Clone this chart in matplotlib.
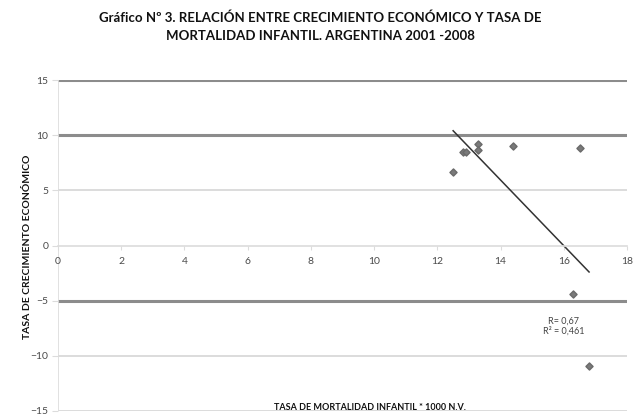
import matplotlib
matplotlib.use("Agg")
import matplotlib.pyplot as plt
import numpy as np

# Data
mortalidad = [12.5, 12.8, 12.9, 13.3, 13.3, 14.4, 16.5, 16.3, 16.8]
crecimiento = [6.7, 8.5, 8.5, 9.2, 8.7, 9.0, 8.8, -4.4, -10.9]
trend_x = [12.5, 16.8]
trend_y = [10.4, -2.4]

y_ticks = [-15, -10, -5, 0, 5, 10, 15]
x_ticks = [0, 2, 4, 6, 8, 10, 12, 14, 16, 18]
dark_grid = [15, 10, -5]
light_grid = [5, -10, -15]

plt.rcParams["font.family"] = ["Lato", "DejaVu Sans"]

fig = plt.figure(figsize=(6.38, 4.18), dpi=100)
ax = fig.add_axes([58 / 638, 1 - 411 / 418, (627 - 58) / 638, (411 - 80) / 418])

for y in dark_grid:
    ax.axhline(y, color="#8c8c8c", lw=2.2, zorder=1)
for y in light_grid:
    ax.axhline(y, color="#dcdcdc", lw=1.4, zorder=1)
ax.axvline(0, color="#dcdcdc", lw=1.2, zorder=1)

ax.plot(trend_x, trend_y, color="#333333", lw=1.1, zorder=2)
ax.scatter(mortalidad, crecimiento, marker="D", s=13, color="#7a7a7a",
           edgecolors="#6a6a6a", zorder=3)

ax.set_xlim(0, 18)
ax.set_ylim(-15, 15)
ax.set_xticks(x_ticks)
ax.set_yticks(y_ticks)
for side in ["top", "right", "left"]:
    ax.spines[side].set_visible(False)
ax.spines["bottom"].set_position(("data", 0))
ax.spines["bottom"].set_color("#dcdcdc")
ax.spines["bottom"].set_linewidth(1.2)
ax.tick_params(axis="x", colors="#dcdcdc", labelcolor="#4a4a4a", labelsize=7.5,
               length=3, pad=5)
ax.tick_params(axis="y", colors="#dcdcdc", labelcolor="#4a4a4a", labelsize=7.5,
               length=4, pad=3)

ax.text(16.0, -7.3, "R= 0,67\nR² = 0,461", ha="center", va="center",
        fontsize=6.5, color="#444444", linespacing=1.1)

fig.text(370 / 638, 1 - 407 / 418, "TASA DE MORTALIDAD INFANTIL * 1000 N.V.",
         ha="center", va="center", fontsize=6.5, fontweight="bold", color="#111111")
fig.text(28 / 638, 1 - 247 / 418, "TASA DE CRECIMIENTO ECONÓMICO", rotation=90,
         ha="center", va="center", fontsize=7.5, fontweight="bold", color="#111111")
fig.text(320 / 638, 1 - 27 / 418,
         "Gráfico Nº 3. RELACIÓN ENTRE CRECIMIENTO ECONÓMICO Y TASA DE\n"
         "MORTALIDAD INFANTIL. ARGENTINA 2001 -2008",
         ha="center", va="center", fontsize=9.5, fontweight="bold",
         color="#111111", linespacing=1.55)

fig.savefig("out.png", dpi=100)
